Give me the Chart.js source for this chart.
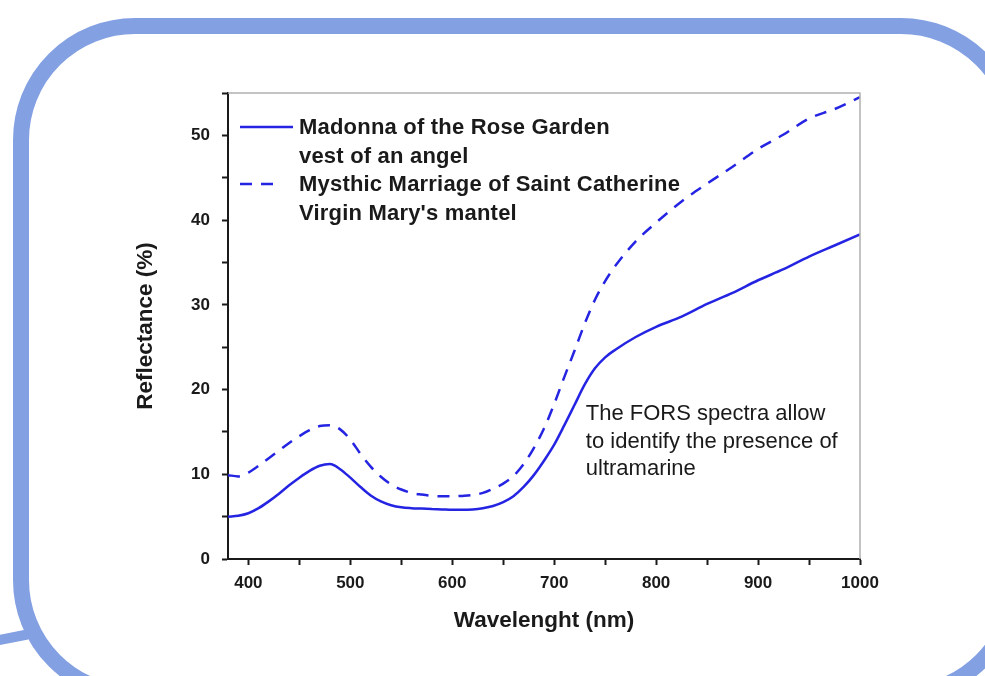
<!DOCTYPE html>
<html>
<head>
<meta charset="utf-8">
<title>FORS spectra</title>
<script src="https://cdn.jsdelivr.net/npm/chart.js@4/dist/chart.umd.min.js"></script>
<style>
    html, body { margin: 0; padding: 0; background: #fff; }
    body { width: 985px; height: 676px; position: relative; overflow: hidden; }
    .frame {
        position: absolute; left: 13px; top: 18px; width: 1010px; height: 684px;
        box-sizing: border-box; border: 16px solid #83a0e2; border-radius: 122px;
    }
    .stub {
        position: absolute; left: -6px; top: 636px; width: 34px; height: 10px;
        background: #83a0e2; transform: rotate(-11deg); transform-origin: left center;
    }
    #wrap { position: absolute; left: 0; top: 0; width: 985px; height: 676px; }
</style>
</head>
<body>
<div class="stub"></div>
<div class="frame"></div>
<div id="wrap"><canvas id="forsChart"></canvas></div>
<script>
// wavelength grid (nm)
const wavelength = [380, 390, 400, 410, 420, 430, 440, 450, 460, 470, 480, 490, 500, 510, 520, 530, 540, 550,
    560, 570, 580, 590, 600, 610, 620, 630, 640, 650, 660, 670, 680, 690, 700, 710, 720, 730, 740, 750, 760,
    780, 800, 825, 850, 875, 900, 925, 950, 975, 1000];

// Madonna of the Rose Garden - vest of an angel (solid)
const madonnaVest = [5.0, 5.1, 5.4, 6.0, 6.8, 7.7, 8.7, 9.6, 10.4, 11.0, 11.2, 10.6, 9.6, 8.5, 7.5, 6.8, 6.35, 6.1,
    6.0, 5.95, 5.9, 5.85, 5.8, 5.8, 5.85, 6.0, 6.25, 6.7, 7.4, 8.5, 9.9, 11.6, 13.5, 15.8, 18.2, 20.6, 22.5, 23.8, 24.7,
    26.2, 27.4, 28.6, 30.1, 31.4, 32.9, 34.2, 35.7, 37.0, 38.3];

// Mysthic Marriage of Saint Catherine - Virgin Mary's mantel (dashed)
const catherineMantel = [9.9, 9.75, 10.2, 11.0, 11.9, 12.8, 13.7, 14.5, 15.2, 15.7, 15.8, 15.3, 14.1, 12.4, 10.9, 9.7, 8.8, 8.2,
    7.8, 7.6, 7.45, 7.4, 7.4, 7.45, 7.55, 7.8, 8.3, 8.9, 9.8, 11.2, 13.1, 15.4, 18.3, 21.5, 24.6, 27.8, 30.6, 32.8, 34.6,
    37.5, 39.7, 42.2, 44.3, 46.3, 48.4, 50.1, 52.0, 53.1, 54.5];

const xTickValues = [400, 450, 500, 550, 600, 650, 700, 750, 800, 850, 900, 950, 1000];
const yTickValues = [0, 5, 10, 15, 20, 25, 30, 35, 40, 45, 50, 55];

const legendSolid = ['Madonna of the Rose Garden', 'vest of an angel'];
const legendDashed = ['Mysthic Marriage of Saint Catherine', "Virgin Mary's mantel"];
const noteLines = ['The FORS spectra allow', 'to identify the presence of', 'ultramarine'];

const lineColor = '#2424e2';
const inkColor = '#1a1a1a';
const fontFamily = '"Liberation Sans", Arial, sans-serif';

function toPoints(ys) {
    return wavelength.map((w, i) => ({ x: w, y: ys[i] }));
}

// legend + note drawn inside plot area
const overlayPlugin = {
    id: 'overlay',
    afterDraw(chart) {
        const { ctx, chartArea } = chart;
        const xs = chart.scales.x, ys = chart.scales.y;
        ctx.save();

        // grey top/right frame
        ctx.strokeStyle = '#b0b0b0';
        ctx.lineWidth = 1.5;
        ctx.beginPath();
        ctx.moveTo(chartArea.left, chartArea.top);
        ctx.lineTo(chartArea.right, chartArea.top);
        ctx.lineTo(chartArea.right, chartArea.bottom);
        ctx.stroke();

        // legend
        const lx = chartArea.left + 12;
        const rows = [chartArea.top + 34, chartArea.top + 63, chartArea.top + 91, chartArea.top + 120];
        const ds = chart.data.datasets;
        [[0, rows[0], 53], [1, rows[2], 33]].forEach(([i, y, len]) => {
            ctx.strokeStyle = ds[i].borderColor;
            ctx.lineWidth = ds[i].borderWidth;
            ctx.setLineDash(ds[i].borderDash || []);
            ctx.beginPath();
            ctx.moveTo(lx, y);
            ctx.lineTo(lx + len, y);
            ctx.stroke();
        });
        ctx.setLineDash([]);
        ctx.fillStyle = inkColor;
        ctx.textBaseline = 'middle';
        ctx.textAlign = 'left';
        ctx.font = 'bold 22px ' + fontFamily;
        ctx.letterSpacing = '0.2px';
        const legendText = legendSolid.concat(legendDashed);
        legendText.forEach((t, i) => ctx.fillText(t, lx + 59, rows[i] + 1));

        // note
        ctx.font = '22px ' + fontFamily;
        ctx.letterSpacing = '0px';
        const nx = xs.getPixelForValue(731);
        const ny = ys.getPixelForValue(17.1);
        noteLines.forEach((t, i) => ctx.fillText(t, nx, ny + i * 27.5));
        ctx.restore();
    }
};

new Chart(document.getElementById('forsChart'), {
    type: 'line',
    data: {
        datasets: [{
            label: legendSolid.join(' '),
            data: toPoints(madonnaVest),
            borderColor: lineColor,
            borderWidth: 2.5,
            pointRadius: 0,
            cubicInterpolationMode: 'monotone',
            fill: false
        }, {
            label: legendDashed.join(' '),
            data: toPoints(catherineMantel),
            borderColor: lineColor,
            borderWidth: 2.5,
            borderDash: [12, 9],
            pointRadius: 0,
            cubicInterpolationMode: 'monotone',
            fill: false
        }]
    },
    options: {
        responsive: true,
        maintainAspectRatio: false,
        animation: false,
        layout: { padding: { left: 132, top: 93, right: 125, bottom: 42 } },
        plugins: {
            legend: { display: false },
            tooltip: { enabled: false }
        },
        scales: {
            x: {
                type: 'linear',
                min: 380,
                max: 1000,
                afterBuildTicks: axis => { axis.ticks = xTickValues.map(v => ({ value: v })); },
                afterFit: axis => { axis.height = 75; },
                grid: { drawOnChartArea: false, tickLength: 6, tickWidth: 2, tickColor: inkColor },
                border: { color: inkColor, width: 2 },
                ticks: {
                    padding: 8,
                    color: inkColor,
                    font: { family: fontFamily, size: 17, weight: 'bold' },
                    callback: v => (v % 100 === 0 ? String(v) : '')
                },
                title: {
                    display: true,
                    text: 'Wavelenght (nm)',
                    color: inkColor,
                    padding: 0,
                    font: { family: fontFamily, size: 22.5, weight: 'bold' }
                }
            },
            y: {
                min: 0,
                max: 55,
                afterBuildTicks: axis => { axis.ticks = yTickValues.map(v => ({ value: v })); },
                afterFit: axis => { axis.width = 96; },
                grid: { drawOnChartArea: false, tickLength: 6, tickWidth: 2, tickColor: inkColor },
                border: { color: inkColor, width: 2 },
                ticks: {
                    padding: 12,
                    color: inkColor,
                    font: { family: fontFamily, size: 17, weight: 'bold' },
                    callback: v => (v % 10 === 0 ? String(v) : '')
                },
                title: {
                    display: true,
                    text: 'Reflectance (%)',
                    color: inkColor,
                    padding: 0,
                    font: { family: fontFamily, size: 22.5, weight: 'bold' }
                }
            }
        }
    },
    plugins: [overlayPlugin]
});
</script>
</body>
</html>
